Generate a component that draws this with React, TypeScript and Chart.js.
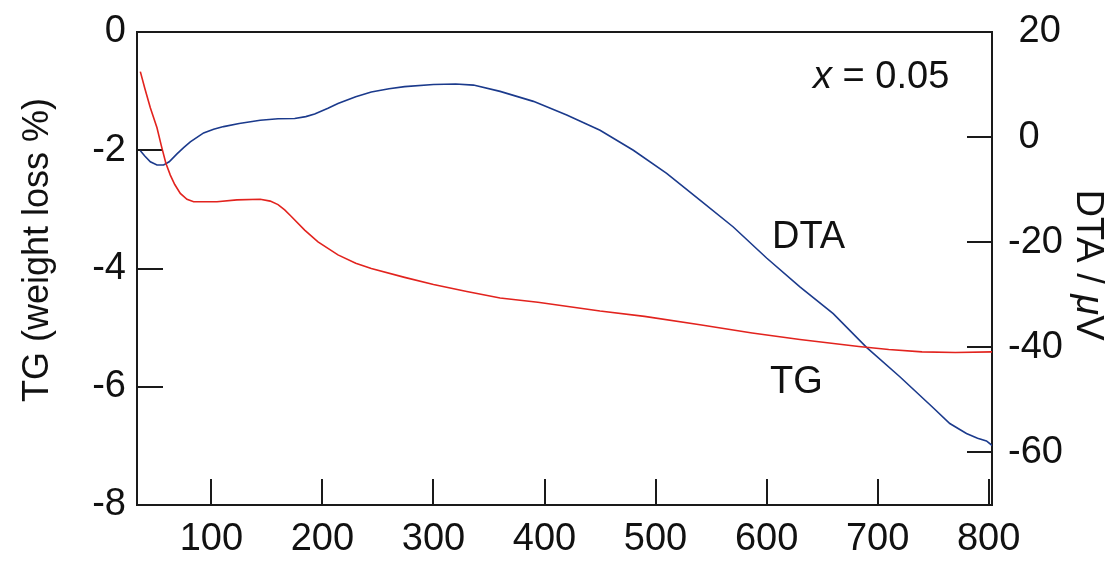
import React, { useEffect, useRef } from 'react';
import { Chart, registerables } from 'chart.js';

Chart.register(...registerables);

// ---- data ----
const tempTG = [36, 40, 45, 51, 55, 59, 63, 67, 72, 78, 84, 105, 123, 144, 153, 160, 166, 172, 184, 196, 214, 230, 244, 274, 300, 330, 360, 394, 450, 490, 540, 587, 630, 683, 710, 740, 770, 805];
const valTG = [-0.67, -0.95, -1.28, -1.62, -1.93, -2.22, -2.42, -2.58, -2.73, -2.83, -2.87, -2.87, -2.84, -2.83, -2.86, -2.92, -3.01, -3.12, -3.35, -3.55, -3.77, -3.91, -4.0, -4.15, -4.27, -4.39, -4.5, -4.57, -4.72, -4.81, -4.95, -5.09, -5.2, -5.32, -5.37, -5.41, -5.42, -5.41];

const tempDTA = [36, 40, 45, 51, 57, 62, 69, 75, 81, 88, 93, 102, 111, 125, 144, 160, 175, 185, 193, 205, 214, 230, 244, 260, 274, 300, 320, 336, 360, 390, 420, 450, 480, 510, 540, 570, 600, 630, 660, 690, 720, 750, 765, 780, 790, 798, 805];
const valDTA = [-2.6, -3.6, -4.7, -5.3, -5.3, -4.7, -3.2, -2.0, -0.9, 0.1, 0.8, 1.5, 2.0, 2.6, 3.2, 3.5, 3.55, 3.9, 4.4, 5.5, 6.4, 7.7, 8.6, 9.2, 9.6, 10.0, 10.1, 9.9, 8.7, 6.8, 4.2, 1.3, -2.5, -6.9, -12.0, -17.1, -23.0, -28.5, -33.6, -40.0, -45.6, -51.5, -54.5, -56.4, -57.3, -57.8, -59.0];

const xTicks = [100, 200, 300, 400, 500, 600, 700, 800];
const tgTicks = [0, -2, -4, -6, -8];
const dtaTicks = [20, 0, -20, -40, -60];

const FONT = '"Liberation Sans", Arial, Helvetica, sans-serif';
const AXIS = '#1a1a1a';
const TEXT = '#111111';
const RED = '#e2231e';
const BLUE = '#1b3a8c';

const zeroPad = (s: any) => {
  s.paddingTop = 0;
  s.paddingBottom = 0;
  s.paddingLeft = 0;
  s.paddingRight = 0;
};

export default function App() {
  const ref = useRef<HTMLCanvasElement>(null);

  useEffect(() => {
    if (!ref.current) return;

    const annot = {
      id: 'annot',
      afterDraw(chart: any) {
        const { ctx, chartArea: a } = chart;
        ctx.save();
        // top frame line
        ctx.strokeStyle = AXIS;
        ctx.lineWidth = 2;
        ctx.beginPath();
        ctx.moveTo(a.left - 1, a.top);
        ctx.lineTo(a.right + 1, a.top);
        ctx.stroke();

        ctx.fillStyle = TEXT;
        ctx.textBaseline = 'alphabetic';
        ctx.textAlign = 'left';

        // x = 0.05
        ctx.font = `italic 38px ${FONT}`;
        ctx.fillText('x', 805, 80);
        const wx = ctx.measureText('x').width;
        ctx.font = `38px ${FONT}`;
        ctx.fillText(' = 0.05', 805 + wx, 80);

        ctx.fillText('DTA', 764, 240);
        ctx.fillText('TG', 762, 385);

        // left axis title
        ctx.save();
        ctx.translate(40, 242);
        ctx.rotate(-Math.PI / 2);
        ctx.textAlign = 'center';
        ctx.font = `36px ${FONT}`;
        ctx.fillText('TG (weight loss %)', 0, 0);
        ctx.restore();

        // right axis title
        ctx.save();
        ctx.translate(1069, 257);
        ctx.rotate(Math.PI / 2);
        ctx.textAlign = 'left';
        const parts: [string, string][] = [
          ['DTA / ', `38px ${FONT}`],
          ['\u03bc', `italic 38px ${FONT}`],
          ['V', `38px ${FONT}`],
        ];
        let total = 0;
        const widths = parts.map(([t, f]) => {
          ctx.font = f;
          const w = ctx.measureText(t).width;
          total += w;
          return w;
        });
        let px = -total / 2;
        parts.forEach(([t, f], i) => {
          ctx.font = f;
          ctx.fillText(t, px, 0);
          px += widths[i];
        });
        ctx.restore();

        ctx.restore();
      },
    };

    const tickFont = { family: FONT, size: 38 };

    const chart = new Chart(ref.current, {
      type: 'line',
      data: {
        datasets: [
          {
            label: 'TG',
            data: tempTG.map((t, i) => ({ x: t, y: valTG[i] })),
            borderColor: RED,
            borderWidth: 1.6,
            pointRadius: 0,
            tension: 0,
            yAxisID: 'y',
          },
          {
            label: 'DTA',
            data: tempDTA.map((t, i) => ({ x: t, y: valDTA[i] })),
            borderColor: BLUE,
            borderWidth: 1.6,
            pointRadius: 0,
            tension: 0,
            yAxisID: 'y2',
          },
        ],
      },
      options: {
        animation: false,
        responsive: true,
        maintainAspectRatio: false,
        devicePixelRatio: 1,
        layout: { padding: { top: 24, left: 0, right: 0, bottom: 0 } },
        plugins: {
          legend: { display: false },
          tooltip: { enabled: false },
        },
        scales: {
          x: {
            type: 'linear',
            position: 'bottom',
            min: 33,
            max: 803,
            afterBuildTicks: (s: any) => {
              s.ticks = xTicks.map((v) => ({ value: v }));
            },
            afterFit: (s: any) => {
              s.height = 48;
              zeroPad(s);
            },
            border: { display: true, color: AXIS, width: 2 },
            grid: { drawOnChartArea: false, drawTicks: true, tickLength: -26, color: AXIS, lineWidth: 2 },
            ticks: { font: tickFont, color: TEXT, padding: 37.5, maxRotation: 0, autoSkip: false },
          },
          y: {
            type: 'linear',
            position: 'left',
            min: -8,
            max: 0,
            afterBuildTicks: (s: any) => {
              s.ticks = tgTicks.map((v) => ({ value: v }));
            },
            afterFit: (s: any) => {
              s.width = 129;
              zeroPad(s);
            },
            border: { display: true, color: AXIS, width: 2 },
            grid: { drawOnChartArea: false, drawTicks: true, tickLength: -26, color: AXIS, lineWidth: 2 },
            ticks: { font: tickFont, color: TEXT, padding: 37, autoSkip: false },
          },
          y2: {
            type: 'linear',
            position: 'right',
            min: -70,
            max: 20,
            afterBuildTicks: (s: any) => {
              s.ticks = dtaTicks.map((v) => ({ value: v }));
            },
            afterFit: (s: any) => {
              s.width = 117;
              zeroPad(s);
            },
            border: { display: true, color: AXIS, width: 2 },
            grid: { drawOnChartArea: false, drawTicks: true, tickLength: -25, color: AXIS, lineWidth: 2 },
            ticks: {
              font: tickFont,
              color: TEXT,
              padding: 41,
              autoSkip: false,
              callback: (v: any) => (Number(v) >= 0 ? ' ' + v : String(v)),
            },
          },
        },
      },
      plugins: [annot],
    });

    return () => chart.destroy();
  }, []);

  return (
    <div style={{ position: 'relative', width: 1101, height: 545 }}>
      <canvas ref={ref} />
    </div>
  );
}
